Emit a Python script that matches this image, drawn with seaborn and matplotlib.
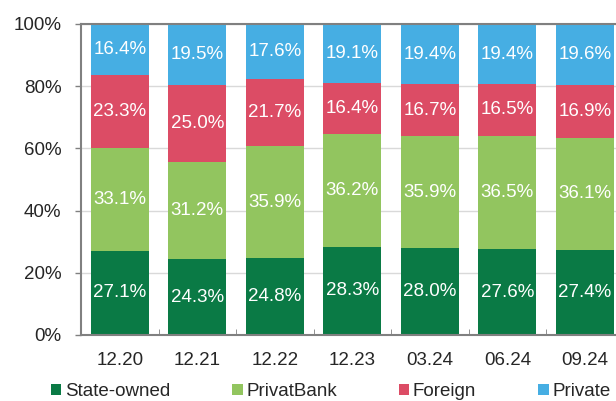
import numpy as np
import pandas as pd
import seaborn as sns
import matplotlib.pyplot as plt

periods = ['12.20', '12.21', '12.22', '12.23', '03.24', '06.24', '09.24']
state_owned = [27.1, 24.3, 24.8, 28.3, 28.0, 27.6, 27.4]
privatbank = [33.1, 31.2, 35.9, 36.2, 35.9, 36.5, 36.1]
foreign = [23.3, 25.0, 21.7, 16.4, 16.7, 16.5, 16.9]
private = [16.4, 19.5, 17.6, 19.1, 19.4, 19.4, 19.6]

series = ['State-owned', 'PrivatBank', 'Foreign', 'Private']
colors = ['#0a7a45', '#92c55f', '#dc4c65', '#46aee3']

df = pd.DataFrame({'period': periods, 'State-owned': state_owned,
                   'PrivatBank': privatbank, 'Foreign': foreign, 'Private': private})

sns.set_style('white')
plt.rcParams['font.family'] = ['Liberation Sans', 'DejaVu Sans']
plt.rcParams['font.size'] = 13.5

fig = plt.figure(figsize=(6.16, 4.01), dpi=100)
ax = fig.add_axes([0.1315, 0.1646, 0.881, 0.7756])

# stacked bars, one layer per ownership group
bottom = np.zeros(len(periods))
for name, col in zip(series, colors):
    sns.barplot(data=df, x='period', y=name, color=col, width=0.75,
                bottom=bottom, ax=ax, label=name, saturation=1, linewidth=0)
    cont = ax.containers[-1]
    ax.bar_label(cont, labels=[f'{v:.1f}%' for v in df[name]], label_type='center',
                 color='white', fontsize=13.5)
    bottom = bottom + df[name].values

ax.set_xlim(-0.5, len(periods) - 0.5)
ax.set_ylim(0, 100)
ax.set_yticks(range(0, 101, 20))
ax.set_yticklabels([f'{v}%' for v in range(0, 101, 20)])
ax.set_xlabel('')
ax.set_ylabel('')
ax.yaxis.grid(True, color='#d9d9d9', linewidth=1)
ax.set_axisbelow(True)
for s in ax.spines.values():
    s.set_color('#808080')
    s.set_linewidth(1.5)
ax.tick_params(axis='y', left=True, length=4, width=1, color='#808080', pad=10, labelsize=13.5)
ax.tick_params(axis='x', bottom=False, pad=9, labelsize=13.5)
ax.set_xticks(np.arange(0.5, len(periods) - 1, 1), minor=True)
ax.tick_params(axis='x', which='minor', bottom=True, direction='in', length=4,
               color='#808080')

handles, labels = ax.get_legend_handles_labels()
ax.legend_ = None
fig.legend(handles, labels, loc='center', bbox_to_anchor=(0.537, 0.024), ncol=4,
           frameon=False, handlelength=0.55, handleheight=0.55, handletextpad=0.2,
           columnspacing=3.3, fontsize=13.5)

fig.savefig('out.png', dpi=100)
